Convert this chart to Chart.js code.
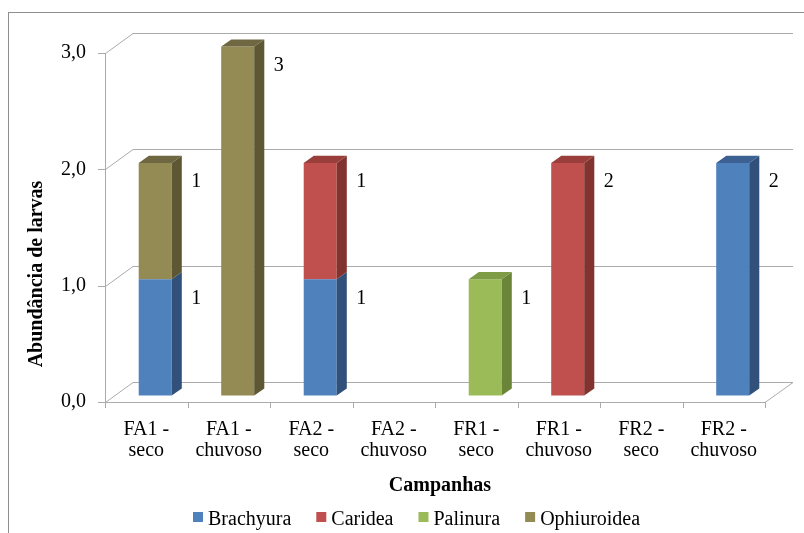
<!DOCTYPE html>
<html>
<head>
<meta charset="utf-8">
<script src="https://cdn.jsdelivr.net/npm/chart.js@4/dist/chart.umd.min.js"></script>
<style>
    html, body { margin: 0; padding: 0; background: #fff; }
    #wrap { width: 804px; height: 533px; position: relative; }
</style>
</head>
<body>
<div id="wrap"><canvas id="chart" width="804" height="533"></canvas></div>
<script>
const categories = [
    ['FA1 -', 'seco'], ['FA1 -', 'chuvoso'], ['FA2 -', 'seco'], ['FA2 -', 'chuvoso'],
    ['FR1 -', 'seco'], ['FR1 -', 'chuvoso'], ['FR2 -', 'seco'], ['FR2 -', 'chuvoso']
];
const seriesNames = ['Brachyura', 'Caridea', 'Palinura', 'Ophiuroidea'];
const brachyura   = [1, 0, 1, 0, 0, 0, 0, 2];
const caridea     = [0, 0, 1, 0, 0, 2, 0, 0];
const palinura    = [0, 0, 0, 0, 1, 0, 0, 0];
const ophiuroidea = [1, 3, 0, 0, 0, 0, 0, 0];
const yTicks = [0, 1, 2, 3];
const yTickLabels = ['0,0', '1,0', '2,0', '3,0'];

const frontColors = ['#4F81BD', '#C0504D', '#9BBB59', '#948A54'];
const sideColors  = ['#31507A', '#82332F', '#6A8438', '#5E5733'];
const topColors   = ['#3C6091', '#9A3E3B', '#7D9C45', '#6F6741'];

const FONT = "'Liberation Serif', 'Times New Roman', serif";
const DEPTH = { x: 28, y: -20 };     // full depth of the 3D floor
const BAR_FRONT = 0.32, BAR_BACK = 0.68;
const GRID_COLOR = '#ABABAB';

function px(v) { return Math.round(v) + 0.5; }

const depthPlugin = {
    id: 'depth3d',
    beforeDatasetsDraw(chart) {
        const ctx = chart.ctx;
        const area = chart.chartArea;
        const yScale = chart.scales.y;
        const left = Math.round(area.left), right = Math.round(area.right);
        const bottom = Math.round(yScale.getPixelForValue(0));

        ctx.save();
        // outer frame
        ctx.strokeStyle = '#8E8E8E';
        ctx.lineWidth = 1;
        ctx.strokeRect(8.5, 12.5, 830, 525);

        ctx.strokeStyle = GRID_COLOR;
        ctx.beginPath();
        yTicks.forEach(v => {
            const y = Math.round(yScale.getPixelForValue(v));
            // back wall gridline
            ctx.moveTo(left + DEPTH.x, y + DEPTH.y + 0.5);
            ctx.lineTo(right + DEPTH.x, y + DEPTH.y + 0.5);
            // side wall diagonal
            ctx.moveTo(left + 0.5, y + 0.5);
            ctx.lineTo(left + DEPTH.x, y + DEPTH.y + 0.5);
            // tick mark
            ctx.moveTo(left - 7, y + 0.5);
            ctx.lineTo(left + 0.5, y + 0.5);
        });
        // floor front edge and right edge
        ctx.moveTo(left, bottom + 0.5);
        ctx.lineTo(right, bottom + 0.5);
        ctx.lineTo(right + DEPTH.x, bottom + DEPTH.y + 0.5);
        // value axis
        const top = Math.round(yScale.getPixelForValue(yTicks[yTicks.length - 1]));
        ctx.moveTo(left + 0.5, top);
        ctx.lineTo(left + 0.5, bottom);
        // category tick marks
        const step = (right - left) / categories.length;
        for (let i = 0; i <= categories.length; i++) {
            const x = px(left + step * i);
            ctx.moveTo(x, bottom);
            ctx.lineTo(x, bottom + 6);
        }
        ctx.stroke();
        ctx.restore();

        // bars sit inside the depth of the floor
        ctx.save();
        ctx.translate(DEPTH.x * BAR_FRONT, DEPTH.y * BAR_FRONT);
    },
    afterDatasetsDraw(chart) {
        const ctx = chart.ctx;
        const sx = DEPTH.x * (BAR_BACK - BAR_FRONT), sy = DEPTH.y * (BAR_BACK - BAR_FRONT);
        const metas = chart.data.datasets.map((d, i) => chart.getDatasetMeta(i));

        for (let c = 0; c < categories.length; c++) {
            let topIdx = -1;
            metas.forEach((meta, di) => {
                const v = chart.data.datasets[di].data[c];
                if (!v) return;
                const el = meta.data[c];
                const r = el.x + el.width / 2;
                ctx.fillStyle = sideColors[di];
                ctx.beginPath();
                ctx.moveTo(r, el.y);
                ctx.lineTo(r + sx, el.y + sy);
                ctx.lineTo(r + sx, el.base + sy);
                ctx.lineTo(r, el.base);
                ctx.closePath();
                ctx.fill();
                topIdx = di;
            });
            if (topIdx >= 0) {
                const el = metas[topIdx].data[c];
                const l = el.x - el.width / 2, r = el.x + el.width / 2;
                ctx.fillStyle = topColors[topIdx];
                ctx.beginPath();
                ctx.moveTo(l, el.y);
                ctx.lineTo(r, el.y);
                ctx.lineTo(r + sx, el.y + sy);
                ctx.lineTo(l + sx, el.y + sy);
                ctx.closePath();
                ctx.fill();
            }
        }

        // data labels next to each segment
        ctx.fillStyle = '#000';
        ctx.font = '20px ' + FONT;
        ctx.textAlign = 'center';
        ctx.textBaseline = 'middle';
        metas.forEach((meta, di) => {
            chart.data.datasets[di].data.forEach((v, c) => {
                if (!v) return;
                const el = meta.data[c];
                ctx.fillText(String(v), el.x + 41, el.y + 19);
            });
        });
        ctx.restore();
    },
    afterDraw(chart) {
        const ctx = chart.ctx;
        ctx.save();
        ctx.fillStyle = '#000';
        ctx.textBaseline = 'alphabetic';

        // axis titles
        ctx.font = 'bold 20px ' + FONT;
        ctx.textAlign = 'center';
        ctx.fillText('Campanhas', 440, 491);
        ctx.save();
        ctx.translate(42, 274);
        ctx.rotate(-Math.PI / 2);
        ctx.fillText('Abundância de larvas', 0, 0);
        ctx.restore();

        // legend
        ctx.font = '20px ' + FONT;
        ctx.textAlign = 'left';
        let x = 193;
        seriesNames.forEach((name, i) => {
            ctx.fillStyle = frontColors[i];
            ctx.fillRect(x, 512, 10, 10);
            ctx.fillStyle = '#000';
            ctx.fillText(name, x + 15, 525);
            x += 15 + ctx.measureText(name).width + 25;
        });
        ctx.restore();
    }
};

const seriesData = [brachyura, caridea, palinura, ophiuroidea];

new Chart(document.getElementById('chart'), {
    type: 'bar',
    data: {
        labels: categories,
        datasets: seriesNames.map((name, i) => ({
            label: name,
            data: seriesData[i],
            backgroundColor: frontColors[i],
            borderWidth: 0,
            clip: false,
            categoryPercentage: 0.4,
            barPercentage: 1.0
        }))
    },
    options: {
        responsive: false,
        animation: false,
        layout: { padding: { left: 0, right: 39, top: 53, bottom: 0 } },
        plugins: {
            legend: { display: false },
            tooltip: { enabled: false }
        },
        scales: {
            x: {
                stacked: true,
                grid: { display: false, drawTicks: false },
                border: { display: false },
                ticks: {
                    color: '#000',
                    font: { family: FONT, size: 20, lineHeight: 1.05 },
                    padding: 17,
                    maxRotation: 0,
                    autoSkip: false
                },
                afterFit: s => { s.height = 131; }
            },
            y: {
                stacked: true,
                min: 0,
                max: 3,
                grid: { display: false, drawTicks: false },
                border: { display: false },
                afterBuildTicks: s => { s.ticks = yTicks.map(v => ({ value: v })); },
                ticks: {
                    color: '#000',
                    font: { family: FONT, size: 20 },
                    padding: 19,
                    callback: v => yTickLabels[yTicks.indexOf(v)]
                },
                afterFit: s => { s.width = 105; }
            }
        }
    },
    plugins: [depthPlugin]
});
</script>
</body>
</html>
